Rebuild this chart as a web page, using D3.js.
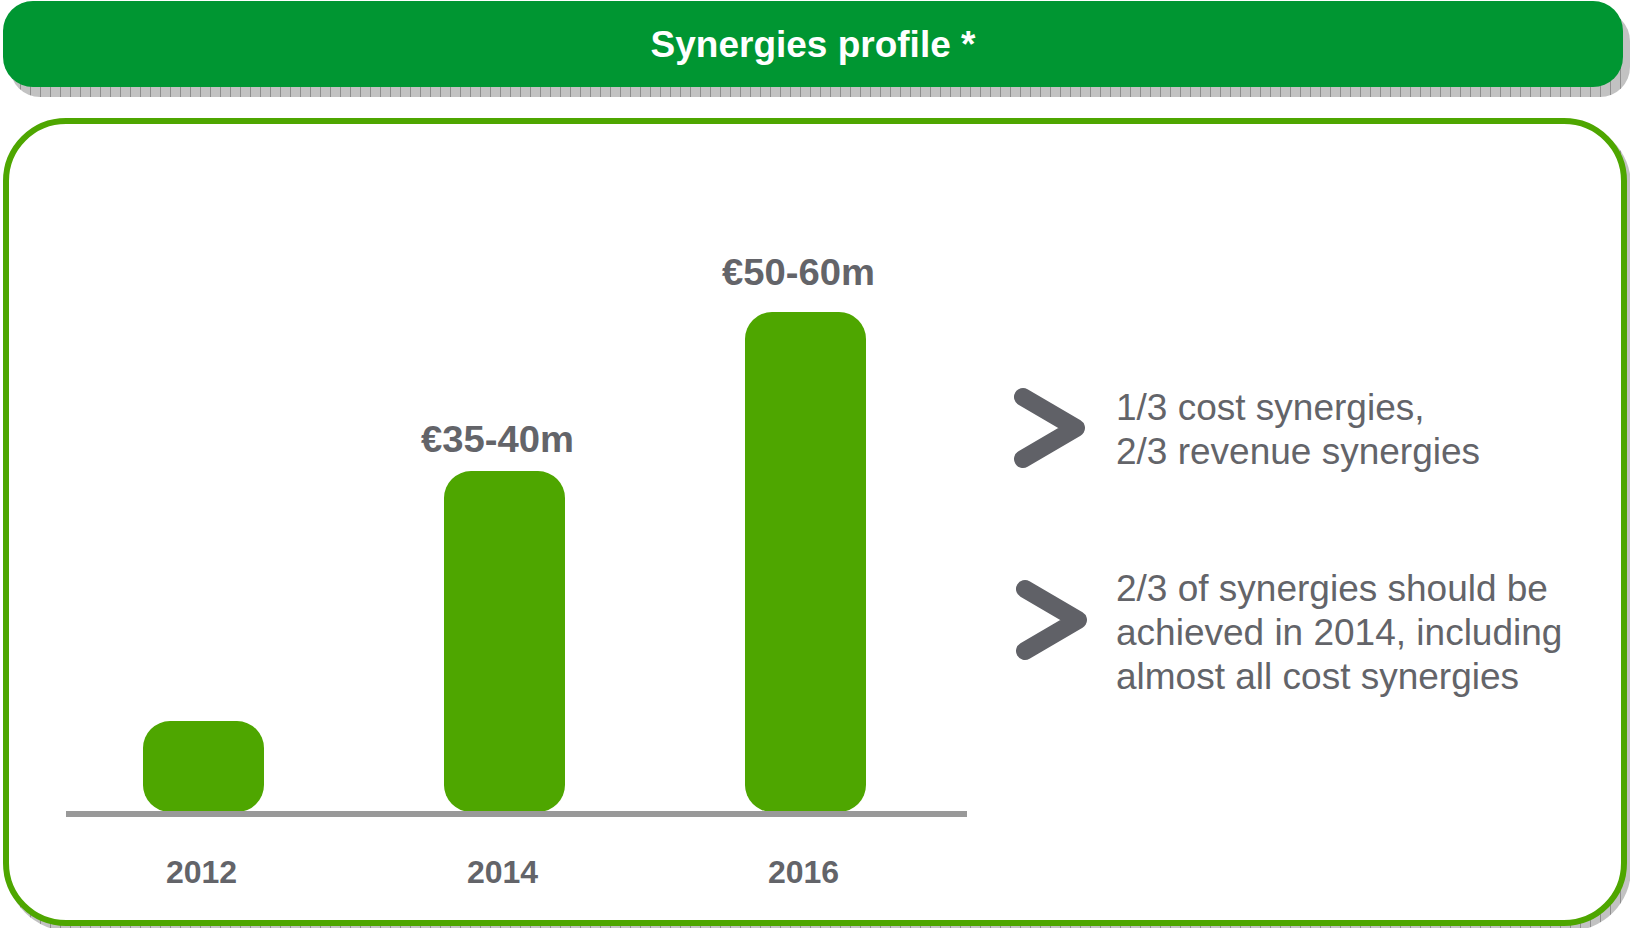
<!DOCTYPE html>
<html>
<head>
<meta charset="utf-8">
<script src="https://cdn.jsdelivr.net/npm/d3@7"></script>
<style>
  body { margin: 0; background: #fff; }
  svg { display: block; font-family: "Liberation Sans", Arial, sans-serif; }
</style>
</head>
<body>
<script>
// data
const years = ['2012', '2014', '2016'];
const synergies = [10, 37.5, 55];          // midpoint of range, EUR m
const valueLabels = ['', '€35-40m', '€50-60m'];
const title = 'Synergies profile *';
const bullets = [
  ['1/3 cost synergies,', '2/3 revenue synergies'],
  ['2/3 of synergies should be', 'achieved in 2014, including', 'almost all cost synergies']
];

const W = 1630, H = 928;
const green = '#4ea600', darkGreen = '#009632', grey = '#636469';

const svg = d3.select('body').append('svg').attr('width', W).attr('height', H);

// hatched shadow pattern
const pat = svg.append('defs').append('pattern')
  .attr('id', 'shade').attr('patternUnits', 'userSpaceOnUse')
  .attr('width', 10).attr('height', 10);
pat.append('rect').attr('width', 10).attr('height', 10).attr('fill', '#c2c2c2');
pat.append('line').attr('x1', 0.5).attr('x2', 0.5).attr('y1', 0).attr('y2', 10)
  .attr('stroke', '#8e8e8e').attr('stroke-width', 1);

// header
svg.append('rect').attr('x', 10).attr('y', 11).attr('width', 1620).attr('height', 86)
  .attr('rx', 30).attr('fill', 'url(#shade)');
svg.append('rect').attr('x', 3).attr('y', 1).attr('width', 1620).attr('height', 86)
  .attr('rx', 30).attr('fill', darkGreen);
svg.append('text').attr('x', 813).attr('y', 57).attr('text-anchor', 'middle')
  .attr('fill', '#fff').attr('font-size', 37).attr('font-weight', 'bold').text(title);

// panel
svg.append('rect').attr('x', 7).attr('y', 123).attr('width', 1624).attr('height', 808)
  .attr('rx', 62).attr('fill', 'url(#shade)');
svg.append('rect').attr('x', 6).attr('y', 121).attr('width', 1618).attr('height', 802)
  .attr('rx', 60).attr('fill', '#fff').attr('stroke', green).attr('stroke-width', 6);

// chart
const x = d3.scaleBand().domain(years).range([53, 956])
  .paddingInner(0.598).paddingOuter(0.299);
const y = d3.scaleLinear().domain([0, 55]).range([812, 312]);

const data = years.map((yr, i) => ({ year: yr, value: synergies[i], label: valueLabels[i] }));

svg.selectAll('rect.bar').data(data).enter().append('rect')
  .attr('class', 'bar')
  .attr('x', d => x(d.year))
  .attr('y', d => y(d.value))
  .attr('width', x.bandwidth())
  .attr('height', d => y(0) - y(d.value))
  .attr('rx', 27).attr('ry', 27)
  .style('fill', green);

// baseline
svg.append('line').attr('x1', 66).attr('x2', 967).attr('y1', 814).attr('y2', 814)
  .attr('stroke', '#999999').attr('stroke-width', 6);

const axis = svg.append('g').attr('transform', 'translate(0,814)')
  .call(d3.axisBottom(x).tickSize(0).tickPadding(46));
axis.select('.domain').remove();
axis.selectAll('text')
  .attr('fill', grey).attr('font-size', 32).attr('font-weight', 'bold')
  .attr('font-family', '"Liberation Sans", Arial, sans-serif')
  .attr('dx', -2);

svg.selectAll('text.val').data(data.filter(d => d.label)).enter().append('text')
  .attr('class', 'val')
  .attr('x', d => x(d.year) + x.bandwidth() / 2 - 7)
  .attr('y', d => y(d.value * 1.055))
  .attr('text-anchor', 'middle')
  .attr('fill', grey).attr('font-size', 36).attr('font-weight', 'bold')
  .attr('textLength', 153).attr('lengthAdjust', 'spacingAndGlyphs')
  .text(d => d.label);

// bullets on the right
const bulletTop = [420, 601];
const chevronDy = [8, 19];
const lineGap = 44;
bullets.forEach((lines, i) => {
  const top = bulletTop[i];
  const cy = top + chevronDy[i];
  svg.append('polyline')
    .attr('points', [[1023 + 2 * i, cy - 31], [1076 + 2 * i, cy], [1023 + 2 * i, cy + 31]].join(' '))
    .attr('fill', 'none').attr('stroke', '#606167').attr('stroke-width', 18)
    .attr('stroke-linecap', 'round').attr('stroke-linejoin', 'round');
  svg.append('g').selectAll('text').data(lines).enter().append('text')
    .attr('x', 1116)
    .attr('y', (d, j) => top + j * lineGap)
    .attr('fill', grey).attr('font-size', 37)
    .text(d => d);
});
</script>
</body>
</html>
